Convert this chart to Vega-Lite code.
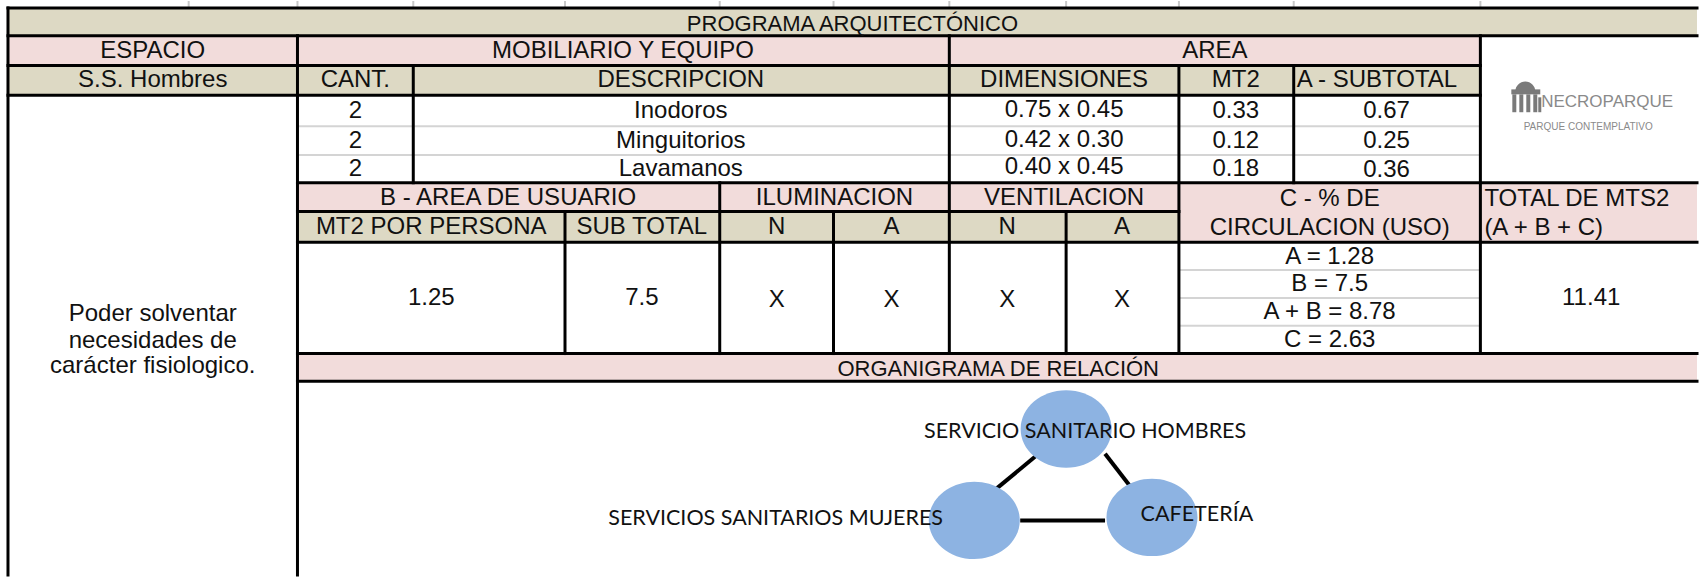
{
  "$schema": "https://vega.github.io/schema/vega-lite/v6.json",
  "autosize": {"type": "fit", "contains": "padding"},
  "width": 1700,
  "height": 578,
  "padding": 0,
  "background": "white",
  "config": {"view": {"stroke": null}},
  "datasets": {
    "fills": [
      {"x": 8, "x2": 1700, "y": 7, "y2": 35, "kind": "tan"},
      {"x": 8, "x2": 1483, "y": 35, "y2": 65, "kind": "pink"},
      {"x": 8, "x2": 1483, "y": 65, "y2": 95, "kind": "tan"},
      {"x": 298, "x2": 1181, "y": 183, "y2": 212, "kind": "pink"},
      {"x": 1181, "x2": 1700, "y": 183, "y2": 243, "kind": "pink"},
      {"x": 298, "x2": 1181, "y": 212, "y2": 243, "kind": "tan"},
      {"x": 298, "x2": 1700, "y": 355, "y2": 383, "kind": "pink"}
    ],
    "thin": [
      {"x": 298, "x2": 1483, "y": 126, "y2": 126},
      {"x": 298, "x2": 1483, "y": 155, "y2": 155},
      {"x": 1181, "x2": 1483, "y": 271, "y2": 271},
      {"x": 1181, "x2": 1483, "y": 299, "y2": 299},
      {"x": 1181, "x2": 1483, "y": 327, "y2": 327}
    ],
    "ticks": [
      {"x": 189, "x2": 189, "y": 0, "y2": 7},
      {"x": 298, "x2": 298, "y": 0, "y2": 7},
      {"x": 414, "x2": 414, "y": 0, "y2": 7},
      {"x": 566, "x2": 566, "y": 0, "y2": 7},
      {"x": 721, "x2": 721, "y": 0, "y2": 7},
      {"x": 835, "x2": 835, "y": 0, "y2": 7},
      {"x": 951, "x2": 951, "y": 0, "y2": 7},
      {"x": 1068, "x2": 1068, "y": 0, "y2": 7},
      {"x": 1181, "x2": 1181, "y": 0, "y2": 7},
      {"x": 1296, "x2": 1296, "y": 0, "y2": 7},
      {"x": 1483, "x2": 1483, "y": 0, "y2": 7}
    ],
    "borders": [
      {"x": 8, "x2": 1700, "y": 7, "y2": 7},
      {"x": 8, "x2": 1700, "y": 35, "y2": 35},
      {"x": 8, "x2": 1483, "y": 65, "y2": 65},
      {"x": 8, "x2": 1483, "y": 95, "y2": 95},
      {"x": 298, "x2": 1700, "y": 183, "y2": 183},
      {"x": 298, "x2": 1181, "y": 212, "y2": 212},
      {"x": 298, "x2": 1700, "y": 243, "y2": 243},
      {"x": 298, "x2": 1700, "y": 355, "y2": 355},
      {"x": 298, "x2": 1700, "y": 383, "y2": 383},
      {"x": 8, "x2": 8, "y": 7, "y2": 578},
      {"x": 298, "x2": 298, "y": 35, "y2": 578},
      {"x": 414, "x2": 414, "y": 65, "y2": 183},
      {"x": 951, "x2": 951, "y": 35, "y2": 355},
      {"x": 1181, "x2": 1181, "y": 65, "y2": 355},
      {"x": 1296, "x2": 1296, "y": 65, "y2": 183},
      {"x": 1483, "x2": 1483, "y": 35, "y2": 355},
      {"x": 566, "x2": 566, "y": 212, "y2": 355},
      {"x": 721, "x2": 721, "y": 183, "y2": 355},
      {"x": 835, "x2": 835, "y": 212, "y2": 355},
      {"x": 1068, "x2": 1068, "y": 212, "y2": 355}
    ],
    "heads": [
      {"x": 854, "y": 23, "label": "PROGRAMA ARQUITECTÓNICO"},
      {"x": 1000, "y": 371, "label": "ORGANIGRAMA DE RELACIÓN"}
    ],
    "txt": [
      {"x": 153, "y": 50, "label": "ESPACIO"},
      {"x": 624, "y": 50, "label": "MOBILIARIO Y EQUIPO"},
      {"x": 1217, "y": 50, "label": "AREA"},
      {"x": 153, "y": 80, "label": "S.S. Hombres"},
      {"x": 356, "y": 80, "label": "CANT."},
      {"x": 682, "y": 80, "label": "DESCRIPCION"},
      {"x": 1066, "y": 80, "label": "DIMENSIONES"},
      {"x": 1238, "y": 80, "label": "MT2"},
      {"x": 356, "y": 111, "label": "2"},
      {"x": 682, "y": 111, "label": "Inodoros"},
      {"x": 1066, "y": 110, "label": "0.75 x 0.45"},
      {"x": 1238, "y": 111, "label": "0.33"},
      {"x": 1389, "y": 111, "label": "0.67"},
      {"x": 356, "y": 141, "label": "2"},
      {"x": 682, "y": 141, "label": "Minguitorios"},
      {"x": 1066, "y": 140, "label": "0.42 x 0.30"},
      {"x": 1238, "y": 141, "label": "0.12"},
      {"x": 1389, "y": 141, "label": "0.25"},
      {"x": 356, "y": 169, "label": "2"},
      {"x": 682, "y": 169, "label": "Lavamanos"},
      {"x": 1066, "y": 167, "label": "0.40 x 0.45"},
      {"x": 1238, "y": 169, "label": "0.18"},
      {"x": 1389, "y": 170, "label": "0.36"},
      {"x": 509, "y": 198, "label": "B - AREA DE USUARIO"},
      {"x": 836, "y": 198, "label": "ILUMINACION"},
      {"x": 1066, "y": 198, "label": "VENTILACION"},
      {"x": 1332, "y": 199, "label": "C - % DE"},
      {"x": 1332, "y": 229, "label": "CIRCULACION (USO)"},
      {"x": 432, "y": 228, "label": "MT2 POR PERSONA"},
      {"x": 643, "y": 228, "label": "SUB TOTAL"},
      {"x": 778, "y": 228, "label": "N"},
      {"x": 893, "y": 228, "label": "A"},
      {"x": 1009, "y": 228, "label": "N"},
      {"x": 1124, "y": 228, "label": "A"},
      {"x": 432, "y": 299, "label": "1.25"},
      {"x": 643, "y": 299, "label": "7.5"},
      {"x": 778, "y": 301, "label": "X"},
      {"x": 893, "y": 301, "label": "X"},
      {"x": 1009, "y": 301, "label": "X"},
      {"x": 1124, "y": 301, "label": "X"},
      {"x": 1332, "y": 258, "label": "A = 1.28"},
      {"x": 1332, "y": 285, "label": "B = 7.5"},
      {"x": 1332, "y": 313, "label": "A + B = 8.78"},
      {"x": 1332, "y": 341, "label": "C = 2.63"},
      {"x": 1594, "y": 299, "label": "11.41"},
      {"x": 153, "y": 315, "label": "Poder solventar"},
      {"x": 153, "y": 342, "label": "necesidades de"},
      {"x": 153, "y": 368, "label": "carácter fisiologico."}
    ],
    "txtl": [
      {"x": 1299, "y": 80, "label": "A - SUBTOTAL"},
      {"x": 1487, "y": 199, "label": "TOTAL DE MTS2"},
      {"x": 1487, "y": 229, "label": "(A + B + C)"}
    ],
    "links": [
      {"x": 1038, "x2": 997, "y": 458, "y2": 492},
      {"x": 1107, "x2": 1137, "y": 456, "y2": 495},
      {"x": 1022, "x2": 1107, "y": 523, "y2": 523}
    ],
    "nodes": [
      {"x": 1068, "y": 431, "name": "SERVICIO SANITARIO HOMBRES"},
      {"x": 976, "y": 523, "name": "SERVICIOS SANITARIOS MUJERES"},
      {"x": 1154, "y": 520, "name": "CAFETERÍA"}
    ],
    "nodelabels": [
      {"x": 1087, "y": 434, "label": "SERVICIO SANITARIO HOMBRES"},
      {"x": 777, "y": 522, "label": "SERVICIOS SANITARIOS MUJERES"},
      {"x": 1199, "y": 518, "label": "CAFETERÍA"}
    ],
    "icon": [
      {"x": 1514, "x2": 1543, "y": 89, "y2": 94},
      {"x": 1515, "x2": 1519, "y": 94, "y2": 112},
      {"x": 1522, "x2": 1526, "y": 94, "y2": 112},
      {"x": 1529, "x2": 1533, "y": 94, "y2": 112},
      {"x": 1536, "x2": 1540, "y": 94, "y2": 112},
      {"x": 1541, "x2": 1544, "y": 97, "y2": 112}
    ],
    "dome": [{"x": 1528, "y": 86}],
    "logo": [
      {"x": 1610, "y": 102, "label": "NECROPARQUE"}
    ],
    "logo2": [
      {"x": 1591, "y": 127, "label": "PARQUE CONTEMPLATIVO"}
    ]
  },
  "encoding": {
    "x": {"field": "x", "type": "quantitative", "scale": {"domain": [0, 1700], "nice": false, "zero": false}, "axis": null},
    "y": {"field": "y", "type": "quantitative", "scale": {"domain": [0, 578], "reverse": true, "nice": false, "zero": false}, "axis": null}
  },
  "layer": [
    {
      "data": {"name": "fills"},
      "mark": {"type": "rect"},
      "encoding": {
        "x2": {"field": "x2"},
        "y2": {"field": "y2"},
        "color": {"field": "kind", "type": "nominal", "scale": {"domain": ["tan", "pink"], "range": ["#ddd9c4", "#f2dcdb"]}, "legend": null}
      }
    },
    {
      "data": {"name": "thin"},
      "mark": {"type": "rule", "color": "#d4d4d4", "strokeWidth": 2},
      "encoding": {"x2": {"field": "x2"}, "y2": {"field": "y2"}}
    },
    {
      "data": {"name": "ticks"},
      "mark": {"type": "rule", "color": "#c8c8c8", "strokeWidth": 2},
      "encoding": {"x2": {"field": "x2"}, "y2": {"field": "y2"}}
    },
    {
      "data": {"name": "borders"},
      "mark": {"type": "rule", "color": "#000000", "strokeWidth": 3, "strokeCap": "square"},
      "encoding": {"x2": {"field": "x2"}, "y2": {"field": "y2"}}
    },
    {
      "data": {"name": "heads"},
      "mark": {"type": "text", "align": "center", "baseline": "middle", "font": "Liberation Sans", "fontSize": 22, "color": "#111111"},
      "encoding": {"text": {"field": "label"}}
    },
    {
      "data": {"name": "txt"},
      "mark": {"type": "text", "align": "center", "baseline": "middle", "font": "Liberation Sans", "fontSize": 24, "color": "#111111"},
      "encoding": {"text": {"field": "label"}}
    },
    {
      "data": {"name": "txtl"},
      "mark": {"type": "text", "align": "left", "baseline": "middle", "font": "Liberation Sans", "fontSize": 24, "color": "#111111"},
      "encoding": {"text": {"field": "label"}}
    },
    {
      "data": {"name": "links"},
      "mark": {"type": "rule", "color": "#000000", "strokeWidth": 4},
      "encoding": {"x2": {"field": "x2"}, "y2": {"field": "y2"}}
    },
    {
      "data": {"name": "nodes"},
      "mark": {"type": "point", "filled": true, "opacity": 1, "color": "#8db3e2", "size": 8281, "shape": "M-1,0A1,0.85,0,1,1,1,0A1,0.85,0,1,1,-1,0Z"},
      "encoding": {"detail": {"field": "name"}}
    },
    {
      "data": {"name": "nodelabels"},
      "mark": {"type": "text", "align": "center", "baseline": "middle", "font": "Lato", "fontSize": 21.5, "color": "#111111"},
      "encoding": {"text": {"field": "label"}}
    },
    {
      "data": {"name": "icon"},
      "mark": {"type": "rect", "color": "#7a7a7a"},
      "encoding": {"x2": {"field": "x2"}, "y2": {"field": "y2"}}
    },
    {
      "data": {"name": "dome"},
      "mark": {"type": "point", "filled": true, "opacity": 1, "color": "#7a7a7a", "size": 400, "shape": "M-1,0.5A1,1,0,0,1,1,0.5Z"}
    },
    {
      "data": {"name": "logo"},
      "mark": {"type": "text", "align": "center", "baseline": "middle", "font": "Liberation Sans", "fontSize": 17, "color": "#8a8a8a"},
      "encoding": {"text": {"field": "label"}}
    },
    {
      "data": {"name": "logo2"},
      "mark": {"type": "text", "align": "center", "baseline": "middle", "font": "Liberation Sans", "fontSize": 10, "color": "#8a8a8a"},
      "encoding": {"text": {"field": "label"}}
    }
  ]
}
